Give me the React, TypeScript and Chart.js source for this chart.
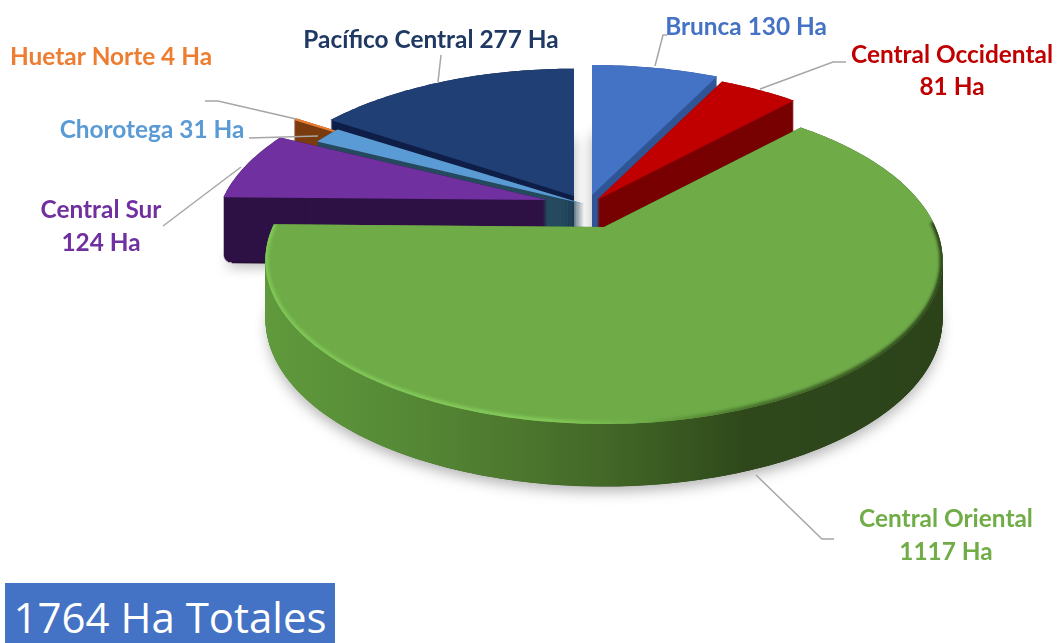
import React, { useEffect, useRef } from "react";
import { Chart, registerables } from "chart.js";

Chart.register(...registerables);

const categories = ["Brunca", "Central Occidental", "Central Oriental", "Central Sur", "Chorotega", "Huetar Norte", "Pacífico Central"];
const hectares = [130, 81, 1117, 124, 31, 4, 277];
const totalLabel = "1764 Ha Totales";

const topColors = ["#4472c4", "#c00000", "#6fac48", "#7030a0", "#5b9bd5", "#ed7d31", "#203f75"];
const wallColors = ["#2f5597", "#780000", "#2f4a1c", "#2e1145", "#264a5e", "#7a3c10", "#0f1f48"];
const shiftX = [2, 7, 14, -43, -6, -45, -16];
const shiftY = [-15, -10, 17, -10, -6, -14, -14];
const radiusScale = [1, 1, 1, 0.98, 0.98, 1, 0.98];
const paintOrder = [6, 5, 4, 3, 0, 1, 2];

const RX = 331.4 / 210;
const RY = 156.6 / 210;
const PERSP = 0.205;
const DEPTH = 66;
const ROUND = 8;

const FONT = 'bold 24.4px Lato, "Open Sans", sans-serif';
const labelRows: [string, number, number, number][] = [
  ["Brunca 130 Ha", 746, 27.5, 0],
  ["Central Occidental", 952, 55.5, 1],
  ["81 Ha", 952, 87.5, 1],
  ["Central Oriental", 946, 519.5, 2],
  ["1117 Ha", 946, 552.5, 2],
  ["Central Sur", 101, 210.5, 3],
  ["124 Ha", 101, 243.5, 3],
  ["Chorotega 31 Ha", 152, 130.5, 4],
  ["Huetar Norte 4 Ha", 111, 57.5, 5],
  ["Pacífico Central 277 Ha", 431, 40.5, 6],
];
const labelColors = ["#4472c4", "#c00000", "#70ad47", "#7030a0", "#5b9bd5", "#ed7d31", "#1f3864"];
const leaderLines: number[][][] = [
  [[655, 66], [663, 35], [667, 35]],
  [[760, 89], [833, 62], [846, 62]],
  [[756, 475], [822, 539], [834, 539]],
  [[241, 167], [163, 226]],
  [[249, 138], [318, 136]],
  [[205, 101], [218, 101], [296, 119]],
  [[438, 82], [441, 55]],
];

type Pt = [number, number];

function slicePolygon(arc: any, i: number): { pts: Pt[]; rim: Pt[]; rx: number } {
  const cx = arc.x + shiftX[i];
  const cy = arc.y + shiftY[i];
  const r = arc.outerRadius * radiusScale[i];
  const steps = Math.max(2, Math.ceil(((arc.endAngle - arc.startAngle) * 180) / Math.PI));
  const rim: Pt[] = [];
  for (let s = 0; s <= steps; s++) {
    const a = arc.startAngle + ((arc.endAngle - arc.startAngle) * s) / steps;
    const u = Math.cos(a);
    const v = Math.sin(a);
    const p = 1 / (1 - PERSP * v);
    rim.push([cx + r * RX * u * p, cy + r * RY * v * p]);
  }
  return { pts: [[cx, cy], ...rim], rim, rx: r * RX };
}

function tracePoly(ctx: CanvasRenderingContext2D, pts: Pt[], dy = 0, scale = 1) {
  const [ax, ay] = pts[0];
  ctx.moveTo(ax, ay + dy);
  for (let k = 1; k < pts.length; k++) {
    ctx.lineTo(ax + (pts[k][0] - ax) * scale, ay + (pts[k][1] - ay) * scale + dy);
  }
  ctx.closePath();
}

const pie3d = {
  id: "pie3d",
  beforeDatasetDraw() {
    return false;
  },
  afterDatasetsDraw(chart: any) {
    const ctx: CanvasRenderingContext2D = chart.ctx;
    const arcs = chart.getDatasetMeta(0).data;
    for (const i of paintOrder) {
      const arc = arcs[i];
      const { pts, rim, rx } = slicePolygon(arc, i);
      // extruded wall, with a rounded lower edge
      ctx.save();
      if (i === 2) {
        const g = ctx.createLinearGradient(264, 0, 942, 0);
        g.addColorStop(0, "#5f9a3c");
        g.addColorStop(0.2, "#568a36");
        g.addColorStop(0.35, "#4e7a2f");
        g.addColorStop(0.5, "#436827");
        g.addColorStop(0.63, "#36551f");
        g.addColorStop(0.71, "#2f481b");
        g.addColorStop(1, "#2c431a");
        ctx.fillStyle = g;
      } else {
        ctx.fillStyle = wallColors[i];
      }
      for (let d = DEPTH; d >= 0; d -= 1) {
        const t = Math.max(0, d - (DEPTH - ROUND));
        const inset = ROUND - Math.sqrt(ROUND * ROUND - t * t);
        const scale = 1 - inset / rx;
        if (d === DEPTH - 2) {
          ctx.shadowColor = "rgba(0,0,0,0.3)";
          ctx.shadowBlur = 14;
          ctx.shadowOffsetX = 0;
          ctx.shadowOffsetY = 5;
        } else {
          ctx.shadowColor = "transparent";
          ctx.shadowBlur = 0;
          ctx.shadowOffsetX = 0;
          ctx.shadowOffsetY = 0;
        }
        ctx.beginPath();
        tracePoly(ctx, pts, d, scale);
        ctx.fill();
      }
      ctx.restore();
      // top face
      ctx.beginPath();
      tracePoly(ctx, pts);
      ctx.fillStyle = arc.options.backgroundColor;
      ctx.fill();
      // soft bevel along the front rim of the large slice
      if (i === 2) {
        ctx.save();
        ctx.beginPath();
        tracePoly(ctx, pts);
        ctx.clip();
        const g = ctx.createLinearGradient(264, 0, 942, 0);
        g.addColorStop(0, "#80c757");
        g.addColorStop(0.42, "#84ca5a");
        g.addColorStop(0.56, "#6fac48");
        g.addColorStop(0.72, "#47702b");
        g.addColorStop(1, "#2c431a");
        ctx.filter = "blur(1.5px)";
        ctx.strokeStyle = g;
        ctx.lineWidth = 6;
        ctx.beginPath();
        const front = rim.filter((q) => q[1] > arc.y + 10);
        front.forEach((q, k) => (k ? ctx.lineTo(q[0], q[1]) : ctx.moveTo(q[0], q[1])));
        ctx.stroke();
        ctx.restore();
      }
    }
  },
  afterDraw(chart: any) {
    const ctx: CanvasRenderingContext2D = chart.ctx;
    ctx.save();
    ctx.strokeStyle = "#a6a6a6";
    ctx.lineWidth = 1.5;
    for (const line of leaderLines) {
      ctx.beginPath();
      line.forEach((q, k) => (k ? ctx.lineTo(q[0], q[1]) : ctx.moveTo(q[0], q[1])));
      ctx.stroke();
    }
    ctx.font = FONT;
    ctx.textAlign = "center";
    ctx.textBaseline = "middle";
    for (const [text, x, y, c] of labelRows) {
      ctx.fillStyle = labelColors[c];
      ctx.fillText(text, x, y);
    }
    ctx.restore();
  },
};

export default function App() {
  const ref = useRef<HTMLCanvasElement>(null);
  useEffect(() => {
    const chart = new Chart(ref.current as HTMLCanvasElement, {
      type: "pie",
      data: {
        labels: categories,
        datasets: [{ data: hectares, backgroundColor: topColors, borderWidth: 0, clip: false } as any],
      },
      options: {
        animation: false,
        responsive: false,
        layout: { padding: { left: 123, right: 0, top: 0, bottom: 223 } },
        plugins: { legend: { display: false }, tooltip: { enabled: false } },
      },
      plugins: [pie3d as any],
    });
    return () => chart.destroy();
  }, []);
  return (
    <div style={{ position: "absolute", left: 0, top: 0, width: 1057, height: 643, overflow: "hidden", background: "#fff" }}>
      <canvas ref={ref} width={1057} height={643} style={{ display: "block" }} />
      <div
        style={{
          position: "absolute",
          left: 5,
          top: 583,
          width: 330,
          height: 60,
          background: "#4472c4",
          color: "#fff",
          font: '42px "Open Sans", sans-serif',
          lineHeight: "68px",
          textAlign: "center",
          whiteSpace: "nowrap",
        }}
      >
        {totalLabel}
      </div>
    </div>
  );
}
